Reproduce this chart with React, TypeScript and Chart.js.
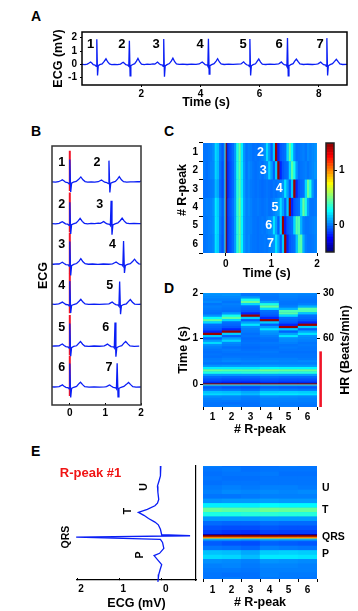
import React, { useEffect, useRef } from "react";
import { Chart, registerables } from "chart.js";

Chart.register(...registerables);

// ---------- data ----------
const ecgTime = [
  0.00, 0.10, 0.18, 0.24, 0.29, 0.34, 0.38, 0.44, 0.48, 0.50, 0.525, 0.55, 0.60, 0.68, 0.75, 0.81, 0.87, 0.93, 1.00, 1.10, 1.20, 1.30,
  1.35, 1.39, 1.44, 1.48, 1.54, 1.58, 1.60, 1.625, 1.65, 1.70, 1.78, 1.84, 1.89, 1.95, 2.01, 2.10, 2.20, 2.30, 2.40,
  2.46, 2.51, 2.55, 2.60, 2.65, 2.72, 2.74, 2.76, 2.785, 2.81, 2.87, 2.95, 3.02, 3.07, 3.13, 3.19, 3.28, 3.40, 3.55, 3.70, 3.85,
  3.96, 4.02, 4.06, 4.11, 4.16, 4.23, 4.25, 4.27, 4.295, 4.32, 4.38, 4.46, 4.53, 4.58, 4.64, 4.70, 4.80, 4.95, 5.10, 5.25,
  5.37, 5.42, 5.46, 5.51, 5.56, 5.63, 5.65, 5.67, 5.695, 5.72, 5.78, 5.86, 5.92, 5.97, 6.03, 6.09, 6.20, 6.35, 6.50,
  6.64, 6.69, 6.73, 6.78, 6.83, 6.90, 6.92, 6.94, 6.965, 6.99, 7.05, 7.13, 7.19, 7.24, 7.30, 7.36, 7.48, 7.62, 7.78, 7.92,
  7.97, 8.02, 8.06, 8.11, 8.16, 8.23, 8.25, 8.27, 8.295, 8.32, 8.38, 8.46, 8.53, 8.59, 8.65, 8.71, 8.80, 8.95,
];
const ecgMv = [
  0.0, -0.02, 0.02, 0.10, 0.18, 0.08, -0.02, -0.05, -0.15, 1.88, -0.83, -0.10, -0.02, 0.04, 0.22, 0.42, 0.18, 0.03, -0.02, 0.0, -0.02, 0.02,
  0.10, 0.16, 0.06, -0.02, -0.05, -0.14, 1.78, -0.87, -0.10, -0.03, 0.05, 0.24, 0.44, 0.18, 0.02, -0.02, 0.01, 0.0, 0.03,
  0.02, 0.10, 0.17, 0.06, -0.03, -0.06, -0.15, 1.90, -0.93, -0.12, -0.02, 0.06, 0.26, 0.46, 0.20, 0.04, 0.0, 0.02, -0.01, 0.02, 0.0,
  0.03, 0.12, 0.18, 0.08, -0.02, -0.05, -0.14, 1.93, -0.73, -0.10, -0.02, 0.05, 0.25, 0.42, 0.18, 0.03, -0.01, 0.01, 0.0, 0.02,
  0.03, 0.12, 0.19, 0.06, -0.03, -0.07, -0.16, 1.90, -0.83, -0.11, -0.02, 0.04, 0.24, 0.40, 0.17, 0.02, -0.01, 0.02, 0.0,
  0.03, 0.11, 0.18, 0.07, -0.03, -0.06, -0.15, 1.97, -0.87, -0.11, -0.02, 0.05, 0.26, 0.40, 0.20, 0.03, -0.01, 0.01, -0.01, 0.02,
  0.04, 0.11, 0.17, 0.06, -0.03, -0.06, -0.15, 1.97, -0.83, -0.11, -0.02, 0.05, 0.22, 0.38, 0.20, 0.03, -0.01, 0.0,
];
const rPeaks = [0.5, 1.6, 2.76, 4.27, 5.67, 6.94, 8.27];
const rLabels = ["1", "2", "3", "4", "5", "6", "7"];
const aLabelTimes = [0.29, 1.35, 2.5, 3.99, 5.44, 6.66, 8.04];
const bOffsets = [0, -3.47, -6.86, -10.2, -13.7, -17.1];
const bSecondLabelTimes = [0.76, 0.84, 1.2, 1.12, 1.01, 1.1];
const cLabelTimes = [0.76, 0.82, 1.17, 1.08, 0.94, 0.98];
const rowLabels = ["1", "2", "3", "4", "5", "6"];
const heatEdges = [
  -0.5, -0.45, -0.4, -0.35, -0.3, -0.25, -0.2, -0.15, -0.1, -0.05, -0.03, -0.02, 0, 0.02, 0.03,
  0.075, 0.125, 0.175, 0.225, 0.275, 0.325, 0.375, 0.425, 0.475, 0.525,
  0.575, 0.625, 0.675, 0.725, 0.775, 0.825, 0.875, 0.925, 0.975, 1.025,
  1.075, 1.125, 1.175, 1.225, 1.275, 1.325, 1.375, 1.425, 1.475, 1.525,
  1.575, 1.625, 1.675, 1.725, 1.775, 1.825, 1.875, 1.925, 1.975, 2.0,
];
const heatRow1 = [
  -0.02, -0.02, -0.01, 0.0, 0.03, 0.18, 0.13, -0.02, -0.07, 0.02, 0.4, 1.0, 1.5,
  -0.36, -0.13, -0.09, -0.04, 0.05, 0.3, 0.45, 0.22, 0.04, -0.02, 0.0,
  -0.01, -0.03, -0.02, -0.03, -0.02, 0.0, 0.03, 0.18, 0.05, -0.06,
  0.15, 1.45, -0.18, -0.08, -0.05, -0.03, 0.18, 0.44, 0.26, 0.04,
  -0.03, -0.02, -0.01, 0.0, -0.02, 0.02, 0.0, 0.02, 0.03, 0.05,
];
const heatRow2 = [
  -0.01, -0.03, -0.01, 0.01, 0.02, 0.17, 0.12, -0.03, -0.09, 0.02, 0.4, 1.0, 1.5,
  -0.38, -0.15, -0.1, -0.05, 0.05, 0.3, 0.43, 0.22, 0.05, -0.02, 0.02,
  0.0, -0.02, -0.03, -0.02, -0.01, -0.03, 0.0, 0.02, 0.17, 0.06,
  -0.06, 0.15, 1.45, -0.18, -0.08, -0.05, -0.03, 0.18, 0.43, 0.28,
  0.05, -0.03, -0.02, -0.01, 0.0, -0.02, 0.0, 0.02, 0.04, 0.04,
];
const heatRow3 = [
  -0.03, -0.03, -0.02, -0.01, 0.0, 0.12, 0.08, -0.05, -0.1, 0.0, 0.38, 1.0, 1.5,
  -0.4, -0.16, -0.1, -0.05, 0.05, 0.32, 0.42, 0.22, 0.05, -0.01, 0.01,
  -0.01, -0.02, -0.03, -0.02, -0.03, -0.04, -0.03, -0.02, -0.03, -0.04,
  -0.02, -0.03, -0.01, 0.0, 0.03, 0.2, 0.07, -0.06, 0.15, 1.45,
  -0.18, -0.08, -0.05, -0.03, 0.18, 0.45, 0.3, 0.05, -0.02, -0.02,
];
const heatRow4 = [
  -0.01, 0.0, 0.0, 0.01, 0.04, 0.21, 0.15, 0.0, -0.06, 0.03, 0.42, 1.0, 1.5,
  -0.36, -0.12, -0.08, -0.03, 0.06, 0.33, 0.47, 0.25, 0.06, 0.0, 0.02,
  0.0, -0.02, -0.02, -0.01, -0.02, -0.03, -0.02, -0.01, -0.03, -0.02,
  0.0, 0.03, 0.05, 0.2, 0.06, -0.06, 0.15, 1.45, -0.18, -0.08,
  -0.05, -0.03, 0.18, 0.45, 0.3, 0.06, -0.02, -0.02, -0.01, 0.0,
];
const heatRow5 = [
  -0.01, -0.01, 0.0, 0.01, 0.03, 0.21, 0.16, -0.01, -0.07, 0.02, 0.4, 1.0, 1.5,
  -0.38, -0.13, -0.09, -0.04, 0.06, 0.32, 0.45, 0.24, 0.05, 0.0, 0.01,
  0.0, -0.02, -0.02, -0.03, -0.02, -0.01, -0.02, 0.0, 0.02, 0.03,
  0.2, 0.07, -0.06, 0.15, 1.45, -0.18, -0.08, -0.05, -0.03, 0.18,
  0.42, 0.4, 0.1, 0.0, -0.02, -0.02, -0.01, 0.0, 0.01, 0.02,
];
const heatRow6 = [
  -0.02, -0.01, 0.0, 0.0, 0.02, 0.2, 0.15, -0.02, -0.08, 0.02, 0.4, 1.0, 1.5,
  -0.38, -0.13, -0.09, -0.04, 0.06, 0.32, 0.45, 0.24, 0.05, 0.0, 0.02,
  -0.01, -0.02, -0.02, -0.03, -0.02, -0.02, -0.01, -0.02, 0.0, 0.02,
  0.04, 0.2, 0.08, -0.06, 0.15, 1.45, -0.18, -0.08, -0.05, -0.03,
  0.14, 0.4, 0.42, 0.1, 0.0, -0.02, -0.02, -0.01, 0.0, 0.02,
];
const heatRows = [heatRow1, heatRow2, heatRow3, heatRow4, heatRow5, heatRow6];
const colorLevels = [
  -0.5, -0.45, -0.4, -0.35, -0.3, -0.25, -0.2, -0.15, -0.1, -0.05, 0, 0.05, 0.1, 0.15, 0.2, 0.25, 0.3, 0.35, 0.4, 0.45,
  0.5, 0.55, 0.6, 0.65, 0.7, 0.75, 0.8, 0.85, 0.9, 0.95, 1, 1.05, 1.1, 1.15, 1.2, 1.25, 1.3, 1.35, 1.4, 1.45, 1.5,
];
const hrTicks = [30, 60];
const hrBarTimes = [-0.5, 0.72];
const eTraceTime = [
  0.79, 0.74, 0.68, 0.63, 0.567, 0.5, 0.42, 0.38, 0.35, 0.31, 0.278, 0.245, 0.21, 0.17, 0.14, 0.09, 0.03, 0.019, 0.003,
  -0.02, -0.055, -0.12, -0.175, -0.2, -0.255, -0.3, -0.36, -0.41, -0.45, -0.49,
];
const eTraceMv = [
  0.02, 0.03, 0.03, 0.06, 0.1, 0.09, 0.07, 0.1, 0.16, 0.34, 0.55, 0.42, 0.31, 0.16, 0.08, 0.03, 0.0, -0.67, 2.02,
  0.03, -0.02, -0.05, 0.05, 0.18, 0.08, 0.0, 0.04, 0.07, 0.08, 0.09,
];

// ---------- styling ----------
const FAMILY = '"Liberation Sans", Arial, sans-serif';
const tickFont = { family: FAMILY, size: 10, weight: "bold" as const };
const titleFont = { family: FAMILY, size: 12.5, weight: "bold" as const };
const BLUE = "#0a1ef5";
const css = (size: number) => `bold ${size}px ${FAMILY}`;

const clamp01 = (v: number) => Math.min(1, Math.max(0, v));
function jet(v: number) {
  const n = clamp01((v + 0.5) / 2);
  const ch = (c: number) => Math.round(255 * clamp01(1.5 - Math.abs(4 * n - c)));
  return `rgb(${ch(3)},${ch(2)},${ch(1)})`;
}

const extras = {
  id: "extras",
  beforeDatasetsDraw(chart: any, _a: any, o: any) {
    if (o.fill) {
      const a = chart.chartArea;
      chart.ctx.save();
      chart.ctx.fillStyle = o.fill;
      chart.ctx.fillRect(a.left, a.top, a.right - a.left, a.bottom - a.top);
      chart.ctx.restore();
    }
  },
  afterDraw(chart: any, _a: any, o: any) {
    const ctx = chart.ctx;
    const a = chart.chartArea;
    ctx.save();
    if (o.frame) {
      ctx.strokeStyle = o.frame;
      ctx.lineWidth = 1.5;
      ctx.strokeRect(a.left, a.top, a.right - a.left, a.bottom - a.top);
    }
    ctx.textAlign = "center";
    ctx.textBaseline = "middle";
    for (const t of o.dataTexts || []) {
      ctx.font = t.font;
      ctx.fillStyle = t.color || "#000";
      ctx.fillText(t.text, chart.scales.x.getPixelForValue(t.x), chart.scales.y.getPixelForValue(t.y));
    }
    const [ox, oy] = o.origin || [0, 0];
    for (const t of o.pageTexts || []) {
      ctx.save();
      ctx.font = t.font;
      ctx.fillStyle = t.color || "#000";
      ctx.textAlign = t.align || "center";
      ctx.translate(t.x - ox, t.y - oy);
      if (t.rotate) ctx.rotate(-Math.PI / 2);
      ctx.fillText(t.text, 0, 0);
      ctx.restore();
    }
    ctx.restore();
  },
};

const setTicks = (values: number[]) => (axis: any) => {
  axis.ticks = values.map((value) => ({ value }));
};
const fit = (size: number) => (axis: any) => {
  if (axis.isHorizontal()) axis.height = size;
  else axis.width = size;
  axis.paddingTop = 0;
  axis.paddingBottom = 0;
  axis.paddingLeft = 0;
  axis.paddingRight = 0;
};
const axis = (size: number, tl: number, pad: number, extra: any = {}) => ({
  afterFit: fit(size),
  border: { display: false },
  grid: { display: true, drawOnChartArea: false, drawTicks: true, tickLength: tl, tickColor: "#000", tickWidth: 1 },
  ...extra,
  ticks: { color: "#000", font: tickFont, padding: pad, maxRotation: 0, autoSkip: false, ...(extra.ticks || {}) },
});
const title = (text: string) => ({ display: true, text, color: "#000", font: titleFont, padding: 0 });
const base = (pad: any, plugin: any) => ({
  responsive: false,
  maintainAspectRatio: false,
  animation: false as const,
  events: [] as any[],
  layout: { padding: pad, autoPadding: false },
  plugins: { legend: { display: false }, tooltip: { enabled: false }, extras: plugin },
});

const line = (data: any[], color = BLUE, width = 1.3, extra: any = {}) => ({
  type: "scatter" as const,
  data,
  showLine: true,
  borderColor: color,
  backgroundColor: color,
  borderWidth: width,
  pointRadius: 0,
  tension: 0,
  ...extra,
});

const heatDatasets = (horizontal: boolean) =>
  heatEdges.slice(0, -1).map((t0, b) => ({
    type: "bar" as const,
    data: heatRows.map(() => [t0, heatEdges[b + 1]]),
    backgroundColor: heatRows.map((row) => jet(row[b])),
    borderWidth: 0,
    inflateAmount: 0.15,
    grouped: false,
    barPercentage: 1,
    categoryPercentage: 1,
    indexAxis: horizontal ? ("y" as const) : ("x" as const),
  }));

const zip = (xs: number[], ys: number[]) => xs.map((x, i) => ({ x, y: ys[i] }));

// ---------- panels: plot rectangle + margins ----------
type Panel = { key: string; l: number; t: number; r: number; b: number; ml: number; mt: number; mr: number; mb: number };
const P: Record<string, Panel> = {
  a: { key: "a", l: 82, t: 32, r: 347, b: 85, ml: 31, mt: 2, mr: 4, mb: 26 },
  b: { key: "b", l: 52, t: 146, r: 141, b: 405, ml: 16, mt: 2, mr: 4, mb: 27 },
  c: { key: "c", l: 203, t: 143, r: 317, b: 253, ml: 32, mt: 2, mr: 4, mb: 30 },
  bar: { key: "bar", l: 326, t: 143, r: 334, b: 252, ml: 2, mt: 2, mr: 20, mb: 2 },
  d: { key: "d", l: 203, t: 293, r: 317, b: 407, ml: 27, mt: 9, mr: 37, mb: 30 },
  e1: { key: "e1", l: 77, t: 466, r: 196, b: 580, ml: 20, mt: 12, mr: 3, mb: 31 },
  e2: { key: "e2", l: 203, t: 466, r: 317, b: 579, ml: 4, mt: 3, mr: 40, mb: 31 },
};
const rect = (p: Panel) => ({ x: p.l - p.ml, y: p.t - p.mt, w: p.r - p.l + p.ml + p.mr, h: p.b - p.t + p.mt + p.mb });
const origin = (p: Panel) => [p.l - p.ml, p.t - p.mt];

function buildConfigs(): Record<string, any> {
  const ecg = zip(ecgTime, ecgMv);
  const bTraces = bOffsets.map((off, i) =>
    line(
      ecg
        .filter((pt) => pt.x >= rPeaks[i] - 0.6 && pt.x <= rPeaks[i] + 2.1)
        .map((pt) => ({ x: pt.x - rPeaks[i], y: pt.y + off })),
    ),
  );
  const bRed = bOffsets.map((off) =>
    line(
      [
        { x: 0, y: off + 2.6 },
        { x: 0, y: off - 0.75 },
      ],
      "#f01428",
      2,
    ),
  );
  const fill = jet(-0.02);

  return {
    a: {
      data: { datasets: [line(ecg)] },
      options: {
        ...base({ top: P.a.mt, right: P.a.mr }, {
          frame: "#000",
          dataTexts: rLabels.map((text, i) => ({ text, x: aLabelTimes[i], y: 1.5, font: css(13) })),
          pageTexts: [{ text: "Time (s)", x: 206, y: 103, font: css(12.5) }],
          origin: origin(P.a),
        }),
        scales: {
          x: axis(P.a.mb, 2, 1, { type: "linear", min: 0, max: 8.95, afterBuildTicks: setTicks([2, 4, 6, 8]) }),
          y: axis(P.a.ml, 2, 3, { type: "linear", min: -1.55, max: 2.43, afterBuildTicks: setTicks([-1, 0, 1, 2]), title: title("ECG (mV)") }),
        },
      },
    },
    b: {
      data: { datasets: [...bTraces, ...bRed] },
      options: {
        ...base({ top: P.b.mt, right: P.b.mr }, {
          frame: "#333",
          dataTexts: bOffsets.flatMap((off, i) => [
            { text: rLabels[i], x: -0.225, y: off + 1.6, font: css(12.5) },
            { text: rLabels[i + 1], x: bSecondLabelTimes[i], y: off + 1.6, font: css(12.5) },
          ]),
        }),
        scales: {
          x: axis(P.b.mb, -2, 4, { type: "linear", min: -0.5, max: 2, afterBuildTicks: setTicks([0, 1, 2]) }),
          y: axis(P.b.ml, 0, 0, { type: "linear", min: -18.6, max: 3, title: title("ECG"), grid: { display: false }, ticks: { display: false } }),
        },
      },
    },
    c: {
      data: { labels: rowLabels, datasets: heatDatasets(true) },
      options: {
        ...base({ top: P.c.mt, right: P.c.mr }, {
          fill,
          dataTexts: cLabelTimes.map((x, i) => ({ text: rLabels[i + 1], x, y: i, font: css(12.5), color: "#fff" })),
          pageTexts: [
            { text: "Time (s)", x: 266.7, y: 274, font: css(12.5) },
            { text: "# R-peak", x: 183, y: 190, font: css(12.5), rotate: true },
          ],
          origin: origin(P.c),
        }),
        indexAxis: "y",
        scales: {
          x: axis(P.c.mb, 3, 2, { type: "linear", min: -0.5, max: 2, afterBuildTicks: setTicks([0, 1, 2]) }),
          y: axis(P.c.ml, 4, 1, { type: "category", offset: true }),
        },
      },
    },
    bar: {
      data: {
        labels: [""],
        datasets: colorLevels.map((lv) => ({
          type: "bar" as const,
          data: [[Math.max(-0.5, lv - 0.025), Math.min(1.5, lv + 0.025)]],
          backgroundColor: jet(lv),
          borderWidth: 0,
          grouped: false,
          barPercentage: 1,
          categoryPercentage: 1,
        })),
      },
      options: {
        ...base({ top: P.bar.mt, left: P.bar.ml, bottom: P.bar.mb }, { frame: "#222" }),
        scales: {
          x: { type: "category", display: false, offset: true },
          y: axis(P.bar.mr, 3, 2, { type: "linear", position: "right", min: -0.5, max: 1.5, afterBuildTicks: setTicks([0, 1]) }),
        },
      },
    },
    d: {
      data: {
        labels: rowLabels,
        datasets: [
          line(hrBarTimes.map((y) => ({ x: 6.69, y })), "#f01428", 2.6, { xAxisID: "xHr", clip: false }),
          ...heatDatasets(false),
        ],
      },
      options: {
        ...base({ top: P.d.mt }, {
          fill,
          pageTexts: [{ text: "HR (Beats/min)", x: 346, y: 350, font: css(12.5), rotate: true }],
          origin: origin(P.d),
        }),
        scales: {
          x: axis(P.d.mb, 3, 1, { type: "category", offset: true, title: title("# R-peak") }),
          xHr: { type: "linear", display: false, min: 0.5, max: 6.5 },
          y: axis(P.d.ml, 3, 2, { type: "linear", min: -0.5, max: 2, afterBuildTicks: setTicks([0, 1, 2]), title: title("Time (s)") }),
          yHr: axis(P.d.mr, 3, 3, {
            type: "linear",
            position: "right",
            min: -0.5,
            max: 2,
            afterBuildTicks: setTicks(hrTicks.map((hr) => 60 / hr)),
            ticks: { callback: (v: number) => String(Math.round(60 / v)) },
          }),
        },
      },
    },
    e1: {
      data: { datasets: [line(zip(eTraceMv, eTraceTime), BLUE, 1.3, { clip: false })] },
      options: {
        ...base({ top: P.e1.mt, left: P.e1.ml }, {
          pageTexts: [
            { text: "R-peak #1", x: 90.5, y: 473, font: css(13), color: "#f01414" },
            { text: "U", x: 144, y: 487, font: css(10.5), rotate: true },
            { text: "T", x: 127.7, y: 511, font: css(10.5), rotate: true },
            { text: "QRS", x: 66, y: 537, font: css(10.5), rotate: true },
            { text: "P", x: 140, y: 555, font: css(10.5), rotate: true },
          ],
          origin: origin(P.e1),
        }),
        scales: {
          x: axis(P.e1.mb, -2, 5, {
            type: "linear",
            reverse: true,
            min: -0.81,
            max: 2,
            afterBuildTicks: setTicks([2, 1, 0]),
            border: { display: true, color: "#000", width: 1.2 },
            title: title("ECG (mV)"),
            ticks: { labelOffset: 4 },
          }),
          y: axis(P.e1.mr, 0, 0, {
            type: "linear",
            position: "right",
            min: -0.47,
            max: 0.79,
            border: { display: true, color: "#000", width: 1.2 },
            grid: { display: false },
            ticks: { display: false },
          }),
        },
      },
    },
    e2: {
      data: { labels: rowLabels, datasets: heatDatasets(false) },
      options: {
        ...base({ top: P.e2.mt, left: P.e2.ml, right: P.e2.mr }, {
          fill,
          pageTexts: [
            { text: "U", x: 322, y: 488, font: css(10.5), align: "left" },
            { text: "T", x: 322, y: 510, font: css(10.5), align: "left" },
            { text: "QRS", x: 322, y: 537, font: css(10.5), align: "left" },
            { text: "P", x: 322, y: 554, font: css(10.5), align: "left" },
          ],
          origin: origin(P.e2),
        }),
        scales: {
          x: axis(P.e2.mb, 3, 2, { type: "category", offset: true, title: title("# R-peak") }),
          y: { type: "linear", display: false, min: -0.47, max: 0.79 },
        },
      },
    },
  };
}

const letters = [
  { text: "A", x: 31, y: 8 },
  { text: "B", x: 31, y: 123 },
  { text: "C", x: 164, y: 123 },
  { text: "D", x: 164, y: 280 },
  { text: "E", x: 31, y: 443 },
];

export default function App() {
  const refs = useRef<Record<string, HTMLCanvasElement | null>>({});
  useEffect(() => {
    const configs = buildConfigs();
    const charts = Object.keys(P).map(
      (k) => new Chart(refs.current[k] as HTMLCanvasElement, { ...configs[k], plugins: [extras] }),
    );
    return () => charts.forEach((c) => c.destroy());
  }, []);
  return (
    <div style={{ position: "absolute", left: 0, top: 0, width: 358, height: 611, background: "#fff", overflow: "hidden", fontFamily: FAMILY, filter: "blur(0.35px)" }}>
      {letters.map((l) => (
        <div key={l.text} style={{ position: "absolute", left: l.x, top: l.y, font: css(14), lineHeight: "16px", color: "#000" }}>
          {l.text}
        </div>
      ))}
      {Object.values(P).map((p) => {
        const r = rect(p);
        return (
          <canvas
            key={p.key}
            ref={(el) => {
              refs.current[p.key] = el;
            }}
            width={r.w}
            height={r.h}
            style={{ position: "absolute", left: r.x, top: r.y, width: r.w, height: r.h }}
          />
        );
      })}
    </div>
  );
}
